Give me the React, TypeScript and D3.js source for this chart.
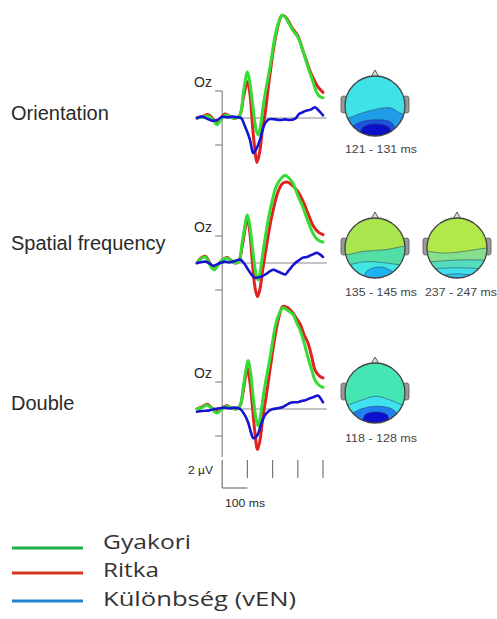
import React from "react";
import * as d3 from "d3";

type Pt = [number, number];

// ERP waveforms at Oz: [time in ms, amplitude in µV]
const orientGreen: Pt[] = [[-100,0],[-80,0.05],[-55,0.15],[-35,-0.2],[-20,-0.5],[-5,-0.1],[10,0.2],[20,0.2],[35,0.05],[55,0],[70,0.2],[85,2.0],[100,3.4],[110,2.6],[122,0.8],[135,-0.9],[143,-1.26],[152,-0.6],[165,1.2],[190,3.8],[215,6.5],[237,7.6],[250,7.5],[262,7.1],[280,6.5],[300,6.0],[315,5.3],[330,4.4],[345,3.5],[360,2.7],[376,1.85],[390,1.55],[400,1.5]];
const orientRed: Pt[] = [[-100,0],[-80,0.1],[-55,0.25],[-35,-0.1],[-20,-0.4],[-5,0],[10,0.3],[20,0.25],[35,0.05],[55,0],[70,0.2],[85,1.6],[100,2.7],[110,1.8],[120,-0.5],[130,-2.4],[138,-3.3],[148,-2.6],[160,-0.8],[170,0.3],[190,3.3],[215,6.3],[237,7.6],[250,7.5],[262,7.2],[280,6.6],[300,6.1],[320,5.0],[335,4.2],[350,3.4],[365,2.8],[380,2.3],[400,1.9]];
const orientBlue: Pt[] = [[-100,0],[-80,0.1],[-60,-0.05],[-40,-0.2],[-20,-0.15],[0,0.1],[20,0.05],[40,0.1],[60,0.05],[75,0],[90,-0.6],[110,-1.6],[123,-2.6],[135,-2.3],[150,-1.6],[160,-0.9],[170,-0.4],[185,-0.1],[210,-0.1],[230,-0.15],[250,-0.1],[270,-0.15],[290,-0.05],[305,0.3],[316,0.4],[335,0.55],[348,0.6],[358,0.7],[368,0.8],[378,0.65],[388,0.45],[400,0.2]];

const spatGreen: Pt[] = [[-100,0],[-85,0.3],[-67,0.45],[-55,0.1],[-40,-0.4],[-30,-0.5],[-15,-0.1],[5,0.3],[20,0.35],[35,0.2],[50,0],[65,0.1],[80,1.6],[100,3.55],[110,2.7],[122,0.8],[135,-0.9],[143,-1.26],[152,-0.5],[165,1.2],[190,3.9],[215,5.7],[235,6.3],[250,6.5],[265,6.3],[281,5.9],[300,5.0],[320,4.15],[340,3.1],[360,2.2],[380,1.7],[400,1.55]];
const spatRed: Pt[] = [[-100,0],[-85,0.35],[-67,0.5],[-55,0.2],[-40,-0.3],[-30,-0.45],[-15,-0.1],[5,0.3],[20,0.4],[35,0.2],[50,0],[65,0.1],[80,1.3],[100,3.3],[110,2.2],[120,0],[130,-1.8],[140,-2.5],[150,-1.9],[160,-0.6],[172,0.8],[195,3.3],[222,5.3],[240,5.9],[257,6.0],[275,5.8],[300,5.3],[320,4.6],[340,3.7],[360,2.8],[380,2.3],[400,2.1]];
const spatBlue: Pt[] = [[-100,0],[-85,0.05],[-67,0.1],[-50,-0.05],[-35,-0.2],[-15,-0.05],[10,0.1],[30,0.05],[50,0.15],[71,0.25],[90,-0.1],[103,-0.5],[118,-0.9],[130,-1.1],[145,-1.05],[158,-1.0],[175,-0.8],[190,-0.6],[205,-0.5],[217,-0.6],[235,-0.75],[250,-0.85],[262,-0.6],[275,-0.3],[290,0],[305,0.2],[320,0.4],[336,0.45],[355,0.6],[376,0.75],[390,0.6],[400,0.45]];

const dblGreen: Pt[] = [[-100,0],[-80,0.1],[-60,0.3],[-45,0.1],[-30,-0.2],[-20,-0.3],[-5,-0.05],[10,0.15],[20,0.2],[35,0.1],[55,0],[70,0.2],[85,1.8],[103,3.6],[112,2.8],[123,0.9],[135,-0.8],[143,-1.26],[152,-0.5],[165,1.2],[190,3.8],[217,6.6],[241,7.5],[260,7.3],[281,7.0],[295,6.4],[309,5.85],[325,4.9],[340,3.85],[355,2.9],[368,2.15],[385,1.75],[400,1.6]];
const dblRed: Pt[] = [[-100,0],[-80,0.15],[-60,0.35],[-45,0.15],[-30,-0.1],[-20,-0.2],[-5,0],[10,0.2],[20,0.25],[35,0.1],[55,0],[70,0.2],[85,1.5],[100,3.0],[110,2.0],[120,0.2],[130,-1.8],[140,-3.0],[150,-2.3],[162,-0.5],[175,1.0],[195,3.6],[220,6.4],[241,7.6],[260,7.5],[281,7.1],[295,6.7],[309,6.3],[325,5.5],[340,4.9],[355,3.9],[368,2.9],[385,2.45],[400,2.3]];
const dblBlue: Pt[] = [[-100,-0.2],[-80,-0.15],[-50,-0.1],[-30,0],[-10,0.05],[10,0.1],[30,0.05],[50,0.1],[71,0],[88,-0.4],[103,-1.0],[115,-1.8],[123,-2.15],[133,-2.1],[143,-1.8],[155,-1.1],[170,-0.45],[185,-0.15],[202,0],[220,0.05],[241,0.15],[255,0.3],[269,0.45],[285,0.5],[300,0.5],[315,0.6],[330,0.65],[348,0.8],[365,0.9],[380,1.0],[390,0.8],[400,0.5]];

const conditions = ["Orientation", "Spatial frequency", "Double"];
const timeTicks = [100, 200, 300, 400];
const legendLabels = ["Gyakori", "Ritka", "Különbség (vEN)"];

// Topographic maps: time window label, background colour, and bands (colour + contour points in head-radius units)
type Band = { color: string; pts: Pt[] };
type Topo = { label: string; bg: string; bands: Band[] };

const topoOrient: Topo = {
  label: "121 - 131 ms",
  bg: "#3fe2e6",
  bands: [
    { color: "#1f9de9", pts: [[-0.9,0.4],[-0.43,0.23],[0.49,0.06],[0.9,0.26]] },
    { color: "#1d52e2", pts: [[-0.83,0.69],[-0.43,0.52],[0.03,0.46],[0.5,0.52],[0.78,0.8]] },
    { color: "#0b0fc6", pts: [[-0.6,0.98],[-0.37,0.69],[0.03,0.6],[0.44,0.69],[0.67,0.98]] },
  ],
};
const topoSpatA: Topo = {
  label: "135 - 145 ms",
  bg: "#a9e64e",
  bands: [
    { color: "#52dea6", pts: [[-1,0.23],[-0.37,0.11],[0.32,0.06],[1,-0.06]] },
    { color: "#3fe6e2", pts: [[-0.94,0.57],[-0.37,0.46],[0.32,0.49],[0.9,0.57]] },
    { color: "#1fb2f0", pts: [[-0.43,0.98],[-0.25,0.75],[0.15,0.63],[0.55,0.77],[0.67,0.98]] },
  ],
};
const topoSpatB: Topo = {
  label: "237 - 247 ms",
  bg: "#b1e84a",
  bands: [
    { color: "#84e08e", pts: [[-1,0.11],[-0.43,0.17],[0.26,0.11],[1,0]] },
    { color: "#54dcbe", pts: [[-0.94,0.46],[0,0.4],[0.95,0.4]] },
    { color: "#3fe0e8", pts: [[-0.88,0.69],[0,0.66],[0.9,0.69]] },
    { color: "#2ec6ec", pts: [[-0.65,0.92],[0,0.86],[0.72,0.92]] },
  ],
};
const topoDouble: Topo = {
  label: "118 - 128 ms",
  bg: "#44e6b4",
  bands: [
    { color: "#40e2f0", pts: [[-0.94,0.4],[-0.43,0.23],[0.03,0.11],[0.5,0.23],[0.95,0.4]] },
    { color: "#2080ef", pts: [[-0.83,0.69],[-0.43,0.52],[0.03,0.44],[0.55,0.52],[0.84,0.75]] },
    { color: "#0c10cf", pts: [[-0.48,0.98],[-0.31,0.71],[0.03,0.63],[0.38,0.71],[0.55,0.98]] },
  ],
};

const COLORS = { green: "#34dc34", red: "#e02222", blue: "#1414d2", axis: "#8a8a8a", text: "#2a2a2a" };
const LEGEND_COLORS = ["#1fae4a", "#cf3a1e", "#1f84d6"];

const x = d3.scaleLinear().domain([-100, 400]).range([197, 323]);
const PX_PER_UV = 13.5;

const panels = [
  { title: conditions[0], base: 118, labelY: 120, waves: [orientRed, orientGreen, orientBlue], topos: [{ t: topoOrient, cx: 375, cy: 106, lx: 345, ly: 153 }] },
  { title: conditions[1], base: 263, labelY: 250, waves: [spatRed, spatGreen, spatBlue], topos: [{ t: topoSpatA, cx: 375, cy: 248, lx: 345, ly: 296 }, { t: topoSpatB, cx: 457, cy: 248, lx: 425, ly: 296 }] },
  { title: conditions[2], base: 409, labelY: 410, waves: [dblRed, dblGreen, dblBlue], topos: [{ t: topoDouble, cx: 375, cy: 393, lx: 345, ly: 442 }] },
];
const waveColors = [COLORS.red, COLORS.green, COLORS.blue];
const waveWidths = [3, 3, 2.6];

function Head({ topo, cx, cy, lx, ly, id }: { topo: Topo; cx: number; cy: number; lx: number; ly: number; id: string }) {
  const r = 30;
  const curve = d3.line<Pt>().x((p) => cx + p[0] * r).y((p) => cy + p[1] * r).curve(d3.curveCatmullRom.alpha(0.5));
  return (
    <g>
      <defs>
        <clipPath id={id}>
          <circle cx={cx} cy={cy} r={r} />
        </clipPath>
      </defs>
      {/* ears */}
      <rect x={cx - r - 4} y={cy - 10} width={6} height={17} rx={2.5} fill="#9a9a9a" stroke="#555" strokeWidth={0.8} />
      <rect x={cx + r - 2} y={cy - 10} width={6} height={17} rx={2.5} fill="#9a9a9a" stroke="#555" strokeWidth={0.8} />
      {/* nose */}
      <path d={`M${cx - 4},${cy - r + 1} L${cx},${cy - r - 6} L${cx + 4},${cy - r + 1}`} fill="#ddd" stroke="#555" strokeWidth={1} />
      <g clipPath={`url(#${id})`}>
        <circle cx={cx} cy={cy} r={r} fill={topo.bg} />
        {topo.bands.map((b, i) => {
          const pts: Pt[] = [[-1.4, b.pts[0][1]], ...b.pts, [1.4, b.pts[b.pts.length - 1][1]]];
          const line = curve(pts) as string;
          const area = `${line} L${cx + 1.4 * r},${cy + 1.4 * r} L${cx - 1.4 * r},${cy + 1.4 * r} Z`;
          return (
            <g key={i}>
              <path d={area} fill={b.color} />
              <path d={line} fill="none" stroke="#2b3a52" strokeWidth={0.7} strokeOpacity={0.75} />
            </g>
          );
        })}
      </g>
      <circle cx={cx} cy={cy} r={r} fill="none" stroke="#444" strokeWidth={1.3} />
      <text x={lx} y={ly} fontSize={11} fill="#444" textLength={72} lengthAdjust="spacingAndGlyphs" fontFamily="Liberation Sans, Arial, sans-serif">
        {topo.label}
      </text>
    </g>
  );
}

export default function App() {
  const x0 = x(0);
  return (
    <svg width={497} height={619} style={{ position: "absolute", left: 0, top: 0, background: "#fff" }} fontFamily="Liberation Sans, Arial, sans-serif">
      {/* vertical amplitude axis through stimulus onset */}
      <line x1={x0} x2={x0} y1={panels[0].base - 2 * PX_PER_UV} y2={457} stroke={COLORS.axis} strokeWidth={1.2} />
      {panels.map((p, pi) => {
        const y = d3.scaleLinear().domain([-2, 2]).range([p.base + 2 * PX_PER_UV, p.base - 2 * PX_PER_UV]);
        const line = d3.line<Pt>().x((d) => x(d[0])).y((d) => y(d[1])).curve(d3.curveCatmullRom.alpha(0.5));
        return (
          <g key={pi}>
            <text x={11} y={p.labelY} fontSize={20} fill={COLORS.text}>{p.title}</text>
            <line x1={x0} x2={x(415)} y1={y(0)} y2={y(0)} stroke={COLORS.axis} strokeWidth={1.2} />
            {[-2, 2].map((v) => (
              <line key={v} x1={x0 - 7} x2={x0} y1={y(v)} y2={y(v)} stroke={COLORS.axis} strokeWidth={1.2} />
            ))}
            <text x={194} y={y(2) - 4} fontSize={14} fill={COLORS.text}>Oz</text>
            {p.waves.map((w, wi) => (
              <path key={wi} d={line(w) as string} fill="none" stroke={waveColors[wi]} strokeWidth={waveWidths[wi]} strokeLinejoin="round" strokeLinecap="round" />
            ))}
            {p.topos.map((h, hi) => (
              <Head key={hi} topo={h.t} cx={h.cx} cy={h.cy} lx={h.lx} ly={h.ly} id={`clip-${pi}-${hi}`} />
            ))}
          </g>
        );
      })}
      {/* calibration bars and time ticks */}
      <g stroke="#777" strokeWidth={1.2}>
        <line x1={x0} x2={x0} y1={460} y2={488} />
        <line x1={x0} x2={x(100)} y1={488} y2={488} />
        {timeTicks.map((t) => (
          <line key={t} x1={x(t)} x2={x(t)} y1={460} y2={478} />
        ))}
      </g>
      <text x={188} y={474} fontSize={10} fill={COLORS.text} textLength={25} lengthAdjust="spacingAndGlyphs">2 µV</text>
      <text x={225} y={507} fontSize={11} fill={COLORS.text} textLength={40} lengthAdjust="spacingAndGlyphs">100 ms</text>
      {/* legend */}
      {legendLabels.map((l, i) => {
        const ly = [548, 573, 601][i];
        const ty = [549, 577, 606][i];
        const tl = [88, 56, 193][i];
        return (
          <g key={l}>
            <line x1={12} x2={83} y1={ly} y2={ly} stroke={LEGEND_COLORS[i]} strokeWidth={3} />
            <text x={103} y={ty} fontSize={20} fill="#333" fontFamily="Open Sans, sans-serif" textLength={tl} lengthAdjust="spacingAndGlyphs">{l}</text>
          </g>
        );
      })}
    </svg>
  );
}
